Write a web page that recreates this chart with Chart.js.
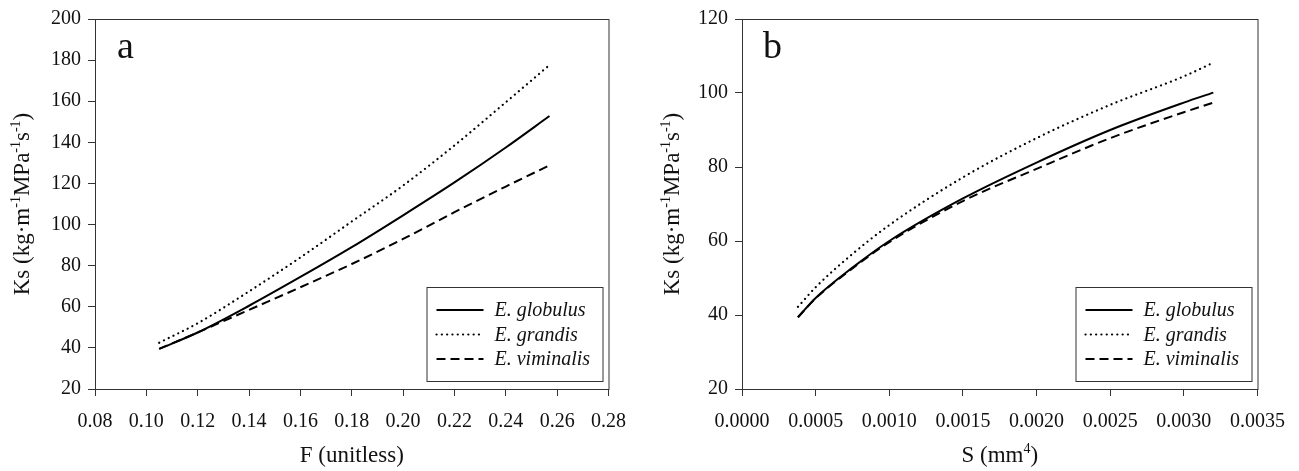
<!DOCTYPE html>
<html>
<head>
<meta charset="utf-8">
<script src="https://cdn.jsdelivr.net/npm/chart.js@4.4.1/dist/chart.umd.min.js"></script>
<style>
  body { margin: 0; background: #fff; }
  .panel { position: absolute; top: 0; height: 471px; }
  #wrap-a { left: 0; width: 640px; }
  #wrap-b { left: 640px; width: 659px; }
</style>
</head>
<body>
<div class="panel" id="wrap-a"><canvas id="chart-a"></canvas></div>
<div class="panel" id="wrap-b"><canvas id="chart-b"></canvas></div>
<script>
// Species names
const speciesNames = ["E. globulus", "E. grandis", "E. viminalis"];

// Panel a: Ks against F (unitless)
const fValues = [0.105, 0.12, 0.14, 0.16, 0.18, 0.20, 0.22, 0.24, 0.257];
const ksGlobulusF = [39.5, 47.5, 60.5, 74.5, 89, 104.5, 120.5, 137.5, 152.8];
const ksGrandisF = [42.5, 52, 67.5, 84, 101.5, 119, 138.5, 159.5, 177.6];
const ksViminalisF = [39.5, 47.5, 58.5, 69.5, 80.8, 93, 106, 118.5, 128.8];

// Panel b: Ks against S (mm^4)
const sValues = [0.00038, 0.0005, 0.00075, 0.001, 0.0015, 0.002, 0.0025, 0.003, 0.0032];
const ksGlobulusS = [39.4, 44.6, 52.8, 60, 71.5, 81.2, 90, 97.4, 100.1];
const ksGrandisS = [42.2, 47.5, 56.5, 64.3, 77.2, 87.8, 96.8, 104.5, 108.2];
const ksViminalisS = [39.4, 44.5, 52.6, 59.7, 70.8, 79.5, 87.8, 94.8, 97.4];

// Axis ticks
const fTicks = { min: 0.08, max: 0.28, step: 0.02, digits: 2 };
const sTicks = { min: 0, max: 0.0035, step: 0.0005, digits: 4 };
const ksTicksA = { min: 20, max: 200, step: 20 };
const ksTicksB = { min: 20, max: 120, step: 20 };

const serif = "'Liberation Serif', 'Times New Roman', serif";
const ink = "#111";
const axisColor = "#333";

// line styles per species: solid, dotted, dashed
const lineStyles = [
    { dash: [], cap: "butt" },
    { dash: [0.1, 5.2], cap: "round" },
    { dash: [9, 5], cap: "butt" },
];

const buildDatasets = (xs, series) =>
    series.map((ys, i) => ({
        label: speciesNames[i],
        data: xs.map((x, k) => ({ x: x, y: ys[k] })),
        borderColor: "#000",
        borderWidth: i === 1 ? 2.2 : 2,
        borderDash: lineStyles[i].dash,
        borderCapStyle: lineStyles[i].cap,
        pointRadius: 0,
        fill: false,
        tension: 0.35,
        cubicInterpolationMode: "monotone",
    }));

// Draw text pieces where some parts are superscripts
const drawRich = (ctx, parts, size) => {
    const supSize = Math.round(size * 0.62);
    let total = 0;
    parts.forEach((p) => {
        ctx.font = `${p.sup ? supSize : size}px ${serif}`;
        p.w = ctx.measureText(p.t).width;
        total += p.w;
    });
    let x = -total / 2;
    parts.forEach((p) => {
        ctx.font = `${p.sup ? supSize : size}px ${serif}`;
        ctx.fillText(p.t, x, p.sup ? -size * 0.38 : 0);
        x += p.w;
    });
};

const ksTitle = [
    { t: "Ks (kg·m" },
    { t: "-1", sup: true },
    { t: "MPa" },
    { t: "-1", sup: true },
    { t: "s" },
    { t: "-1", sup: true },
    { t: ")" },
];

const decorations = {
    id: "decorations",
    afterDraw(chart, args, opts) {
        const { ctx, chartArea } = chart;
        const { left, right, top, bottom } = chartArea;
        ctx.save();

        // frame
        ctx.strokeStyle = axisColor;
        ctx.lineWidth = 1;
        ctx.strokeRect(left + 0.5, top + 0.5, right - left, bottom - top);

        ctx.fillStyle = ink;
        ctx.textBaseline = "alphabetic";

        // panel letter
        ctx.font = `38px ${serif}`;
        ctx.textAlign = "left";
        ctx.fillText(opts.letter, left + opts.letterDx, 58);

        // y title
        ctx.save();
        ctx.translate(opts.yTitleX, (top + bottom) / 2);
        ctx.rotate(-Math.PI / 2);
        drawRich(ctx, ksTitle, 23);
        ctx.restore();

        // x title
        ctx.save();
        ctx.translate((left + right) / 2, 462);
        drawRich(ctx, opts.xTitle, 23);
        ctx.restore();

        // legend box
        const bw = 176, bh = 94;
        const bx = right - 6 - bw, by = bottom - 8 - bh;
        ctx.fillStyle = "#fff";
        ctx.fillRect(bx, by, bw, bh);
        ctx.strokeStyle = axisColor;
        ctx.strokeRect(bx + 0.5, by + 0.5, bw, bh);
        chart.data.datasets.forEach((ds, i) => {
            const ry = by + 23 + i * 24.5;
            ctx.beginPath();
            ctx.setLineDash(ds.borderDash);
            ctx.lineCap = ds.borderCapStyle;
            ctx.lineWidth = ds.borderWidth;
            ctx.strokeStyle = "#000";
            ctx.moveTo(bx + 10, ry);
            ctx.lineTo(bx + 57, ry);
            ctx.stroke();
            ctx.setLineDash([]);
            ctx.fillStyle = ink;
            ctx.font = `italic 20px ${serif}`;
            ctx.textBaseline = "middle";
            ctx.fillText(ds.label, bx + 68, ry + 1);
        });
        ctx.restore();
    },
};

const makeChart = (id, xs, series, xt, yt, cfg) => {
    const ctx = document.getElementById(id);
    if (!ctx) return;
    return new Chart(ctx, {
        type: "line",
        data: { datasets: buildDatasets(xs, series) },
        options: {
            responsive: true,
            maintainAspectRatio: false,
            animation: false,
            layout: { padding: { top: 19, right: cfg.padRight, left: 0, bottom: 0 } },
            scales: {
                x: {
                    type: "linear",
                    min: xt.min,
                    max: xt.max,
                    ticks: {
                        stepSize: xt.step,
                        autoSkip: false,
                        maxRotation: 0,
                        padding: 14,
                        color: ink,
                        font: { family: serif, size: 20 },
                        callback: (v) => Number(v).toFixed(xt.digits),
                    },
                    grid: {
                        drawOnChartArea: false,
                        tickLength: 7,
                        color: axisColor,
                    },
                    border: { color: axisColor, width: 1 },
                    afterFit: (s) => { s.height = 82; },
                },
                y: {
                    min: yt.min,
                    max: yt.max,
                    ticks: {
                        stepSize: yt.step,
                        padding: 7,
                        color: ink,
                        font: { family: serif, size: 20 },
                    },
                    grid: {
                        drawOnChartArea: false,
                        tickLength: 7,
                        color: axisColor,
                    },
                    border: { color: axisColor, width: 1 },
                    afterFit: (s) => { s.width = cfg.yWidth; },
                },
            },
            plugins: {
                legend: { display: false },
                tooltip: { enabled: false },
                decorations: cfg.deco,
            },
        },
        plugins: [decorations],
    });
};

makeChart("chart-a", fValues, [ksGlobulusF, ksGrandisF, ksViminalisF], fTicks, ksTicksA, {
    yWidth: 95,
    padRight: 30,
    deco: { letter: "a", letterDx: 22, yTitleX: 29, xTitle: [{ t: "F (unitless)" }] },
});

makeChart("chart-b", sValues, [ksGlobulusS, ksGrandisS, ksViminalisS], sTicks, ksTicksB, {
    yWidth: 102,
    padRight: 41,
    deco: {
        letter: "b",
        letterDx: 21,
        yTitleX: 39,
        xTitle: [{ t: "S (mm" }, { t: "4", sup: true }, { t: ")" }],
    },
});
</script>
</body>
</html>
